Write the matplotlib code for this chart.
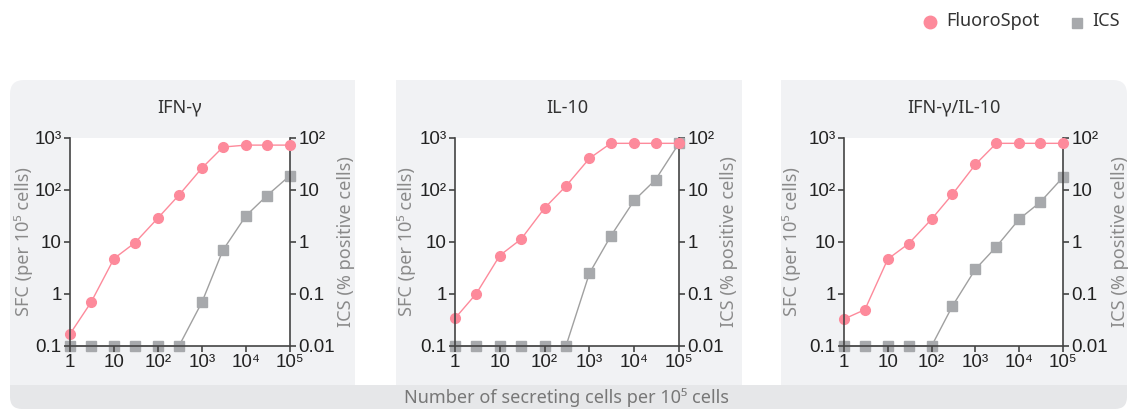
import matplotlib
matplotlib.use("Agg")
import matplotlib.pyplot as plt
from matplotlib.patches import FancyBboxPatch, Rectangle
from matplotlib.lines import Line2D
from matplotlib.ticker import FixedLocator, NullLocator

# data
cells = [1, 3, 10, 30, 100, 300, 1000, 3000, 10000, 30000, 100000]
titles = ["IFN-\u03b3", "IL-10", "IFN-\u03b3/IL-10"]
fluorospot = [
    [0.17, 0.69, 4.8, 9.7, 29, 80, 265, 670, 730, 730, 730],
    [0.34, 1.02, 5.5, 11.4, 45, 119, 405, 790, 790, 790, 790],
    [0.33, 0.50, 4.7, 9.3, 27.5, 83, 310, 790, 790, 790, 790],
]
ics = [
    [0.01, 0.01, 0.01, 0.01, 0.01, 0.01, 0.07, 0.7, 3.2, 7.8, 19],
    [0.01, 0.01, 0.01, 0.01, 0.01, 0.01, 0.25, 1.3, 6.3, 15.8, 79],
    [0.01, 0.01, 0.01, 0.01, 0.01, 0.059, 0.30, 0.81, 2.76, 5.8, 17.6],
]
x_ticks = [1, 10, 100, 1000, 10000, 100000]
x_ticklabels = ["1", "10", "10\u00b2", "10\u00b3", "10\u2074", "10\u2075"]
left_ticks = [0.1, 1, 10, 100, 1000]
left_ticklabels = ["0.1", "1", "10", "10\u00b2", "10\u00b3"]
right_ticks = [0.01, 0.1, 1, 10, 100]
right_ticklabels = ["0.01", "0.1", "1", "10", "10\u00b2"]

PINK = "#fd8a9b"
GRAY = "#a7a9ac"
GRAYLINE = "#a0a0a0"
PANEL = "#f1f2f4"
STRIP = "#e6e7e9"
TXT = "#222222"
LBL = "#8a8a8a"
SPINE = "#444444"

W, H = 1132, 409
fig = plt.figure(figsize=(W / 100, H / 100), dpi=100)
tick_font = ["Liberation Sans", "DejaVu Sans"]
text_font = ["Noto Sans", "DejaVu Sans"]


def fx(px):
    return px / W


def fy(py):
    return 1 - py / H


def rect(x0, y0, x1, y1, color):
    fig.patches.append(Rectangle((fx(x0), fy(y1)), fx(x1 - x0), (y1 - y0) / H,
                                 transform=fig.transFigure, facecolor=color,
                                 edgecolor="none", zorder=-5))


def rounded(x0, y0, x1, y1, color, r=14):
    fig.patches.append(FancyBboxPatch((x0, H - y1), x1 - x0, y1 - y0,
                                      boxstyle=f"round,pad=0,rounding_size={r}",
                                      transform=None, facecolor=color,
                                      edgecolor="none", zorder=-5))


# panel backgrounds (pixel coordinates)
rounded(10, 80, 355, 385, PANEL)
rect(200, 80, 355, 385, PANEL)
rect(10, 200, 355, 385, PANEL)
rect(396, 80, 742, 385, PANEL)
rounded(781, 80, 1127, 385, PANEL)
rect(781, 80, 1000, 385, PANEL)
rect(781, 200, 1127, 385, PANEL)
rounded(10, 385, 1127, 409, STRIP, r=12)
rect(10, 385, 1127, 398, STRIP)

fig.text(fx(567), fy(398), "Number of secreting cells per 10\u2075 cells",
         ha="center", va="center", fontsize=13, color="#777777", family=text_font)

# legend
fig.add_artist(Line2D([fx(930)], [fy(22)], marker="o", markersize=9, color=PINK,
                      linestyle="none", transform=fig.transFigure))
fig.text(fx(946), fy(21), "FluoroSpot", ha="left", va="center", fontsize=13,
         color="#333333", family=text_font)
fig.add_artist(Line2D([fx(1077)], [fy(23)], marker="s", markersize=7, color=GRAY,
                      linestyle="none", transform=fig.transFigure))
fig.text(fx(1092), fy(21), "ICS", ha="left", va="center", fontsize=13,
         color="#333333", family=text_font)

axes_px = [(70, 290), (455, 679), (844, 1063)]
left_label_px = [33, 416, 801]     # right edge of the rotated left label
right_label_px = [337, 720, 1111]  # left edge of the rotated right label
top, bottom = 138, 346

for i, (l, r) in enumerate(axes_px):
    ax = fig.add_axes([fx(l), fy(bottom), fx(r - l), (bottom - top) / H])
    ax2 = ax.twinx()
    ax2.set_zorder(1)
    ax.set_zorder(2)
    ax.patch.set_visible(False)
    ax2.patch.set_visible(True)
    ax2.patch.set_facecolor("white")

    ax.set_xscale("log")
    ax.set_yscale("log")
    ax2.set_yscale("log")
    ax.set_xlim(1, 1e5)
    ax.set_ylim(0.1, 1000)
    ax2.set_ylim(0.01, 100)

    ax2.plot(cells, ics[i], color=GRAYLINE, lw=1, marker="s", markersize=6.5,
             markerfacecolor=GRAY, markeredgecolor=GRAY, clip_on=False)
    ax.plot(cells, fluorospot[i], color=PINK, lw=1, marker="o", markersize=7,
            markerfacecolor=PINK, markeredgecolor=PINK, clip_on=False)

    for a in (ax, ax2):
        a.spines["top"].set_visible(False)
        for s in ("left", "right", "bottom"):
            a.spines[s].set_color(SPINE)
            a.spines[s].set_linewidth(1.2)
        a.yaxis.set_minor_locator(NullLocator())
        a.xaxis.set_minor_locator(NullLocator())
    ax.spines["right"].set_visible(False)
    ax2.spines["left"].set_visible(False)
    ax2.spines["bottom"].set_visible(False)

    ax.xaxis.set_major_locator(FixedLocator(x_ticks))
    ax.set_xticklabels(x_ticklabels)
    ax.yaxis.set_major_locator(FixedLocator(left_ticks))
    ax.set_yticklabels(left_ticklabels)
    ax2.yaxis.set_major_locator(FixedLocator(right_ticks))
    ax2.set_yticklabels(right_ticklabels)

    for a in (ax, ax2):
        a.tick_params(axis="both", which="major", length=4, width=1.2, color=SPINE,
                      direction="out", pad=2, labelsize=13.5, labelcolor=TXT)
        for t in a.get_xticklabels() + a.get_yticklabels():
            t.set_family(tick_font)

    ax.set_ylabel("SFC (per 10\u2075 cells)", fontsize=13, color=LBL, family=text_font)
    ax.yaxis.set_label_coords((left_label_px[i] - l) / (r - l), 0.5)
    ax2.set_ylabel("ICS (% positive cells)", fontsize=13, color=LBL, family=text_font)
    ax2.yaxis.set_label_coords((right_label_px[i] - l) / (r - l), 0.5)

    fig.text(fx((l + r) / 2), fy(108), titles[i], ha="center", va="center",
             fontsize=13, color="#333333", family=text_font)

fig.savefig("out.png", dpi=100, facecolor="white")
